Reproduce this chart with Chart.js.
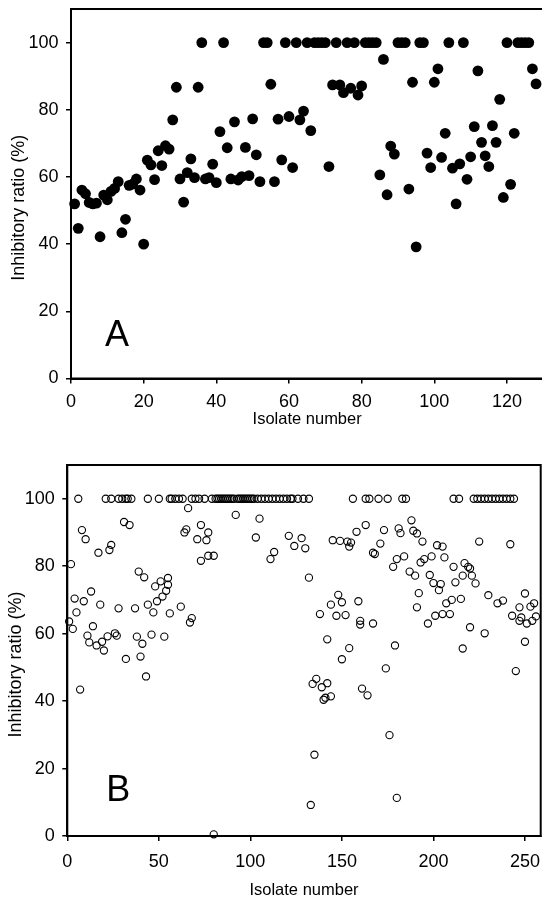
<!DOCTYPE html>
<html><head><meta charset="utf-8">
<script src="https://cdn.jsdelivr.net/npm/chart.js@4/dist/chart.umd.min.js"></script>
<style>
html,body{margin:0;padding:0;background:#fff;overflow:hidden;width:542px;height:901px;position:relative;}
#wa{position:absolute;left:0;top:0;width:560px;height:450px;}
#wb{position:absolute;left:0;top:450px;width:560px;height:451px;}
canvas{display:block;}
</style></head><body>
<div id="wa"><canvas id="ca" width="560" height="450"></canvas></div>
<div id="wb"><canvas id="cb" width="560" height="451"></canvas></div>
<script>
// ---- Panel A: isolates 1..128, inhibitory ratio (%) ----
const ratioA = [
52,44.7,56.1,55,52.4,52,52.2,42.2,54.6,53.2,
55.7,56.6,58.6,43.4,47.4,57.5,57.9,59.4,56.1,40,
65,63.6,59.2,67.8,63.4,69.3,68.3,77,86.7,59.4,
52.5,61.3,65.4,59.8,86.7,100,59.4,59.8,63.8,58.3,
73.5,100,68.7,59.4,76.4,59.1,60.1,68.8,60.4,77.3,
66.6,58.6,100,100,87.6,58.6,77.2,65.1,100,78,
62.8,100,77,79.6,100,73.8,100,100,100,100,
63.1,87.4,100,87.4,85.1,100,86.4,100,84.4,87.1,
100,100,100,100,60.6,95,54.7,69.2,66.8,100,
100,100,56.4,88.2,39.2,100,100,67.1,62.8,88.2,
92.2,65.8,73,100,62.6,52,63.9,100,59.3,66,
75,91.6,70.3,66.3,63.1,75.3,70.3,83.1,53.9,100,
57.8,73,100,100,100,100,92.2,87.7];

// ---- Panel B: isolate number / inhibitory ratio (%) ----
const isolateB = [
1,2,3,4,5,6,7,8,9,10,
11,12,13,14,16,17,18,19,20,21,
22,23,24,24,26,27,28,28,30,31,
32,32,33,34,35,37,38,39,40,41,
42,43,44,44,46,47,48,49,50,51,
52,53,54,55,55,56,56,57,59,61,
62,63,64,65,66,67,68,68,70,71,
72,73,73,75,76,77,77,79,80,80,
81,82,83,84,85,86,87,88,89,90,
91,92,93,94,95,96,97,98,99,100,
101,102,103,104,105,106,108,110,111,112,
113,114,116,118,120,121,122,123,124,126,
128,129,130,132,132,133,134,135,136,138,
139,140,141,142,142,144,144,145,147,148,
149,150,150,152,153,154,154,155,156,158,
159,160,160,161,163,163,164,165,167,167,
168,170,171,173,174,175,176,178,179,180,
180,181,182,183,184,185,187,188,189,190,
191,191,192,193,194,195,197,198,199,200,
201,202,203,204,205,205,206,207,209,210,
211,211,212,214,215,216,216,217,219,220,
220,221,222,223,224,225,226,228,228,230,
230,232,234,235,236,238,238,240,242,242,
243,244,245,247,247,248,250,250,251,253,
254,255,256];
const ratioB = [
63.6,80.6,61.4,70.4,66.3,100,43.4,90.7,69.6,88,
59.4,57.4,72.5,62.2,56.5,84,68.6,57.6,55,100,
59.2,84.8,86.3,100,60.1,59.4,67.5,100,100,93.1,
52.5,100,100,92.2,100,67.5,59.1,78.4,53.2,57,
76.7,47.3,68.6,100,59.7,66.3,74,69.6,100,75.5,
71,59.1,72.7,74.5,76.5,66,100,100,100,100,
68,100,90,90.9,97.2,63.3,64.6,100,100,88,
100,81.6,92.2,100,87.7,90,83.1,100,0.5,83.1,
100,100,100,100,100,100,100,100,100,100,
100,95.2,100,100,100,100,100,100,100,100,
100,100,88.5,100,94.1,100,100,100,82.1,100,
84.2,100,100,100,100,89,100,100,86,100,
88.3,100,85.3,76.6,100,9.2,45.1,24.1,46.6,65.8,
44.1,40.4,41,58.3,45.3,41.4,68.6,87.7,65.3,71.5,
87.5,52.4,69.3,65.5,87.3,85.8,55.7,87,100,90.2,
69.6,63.8,62.7,43.7,92.2,100,41.7,100,84,63,
83.6,100,86.7,90.7,49.7,100,29.9,79.8,56.5,82.1,
11.3,91.2,89.8,100,82.9,100,78.4,93.6,90.5,77.2,
67.8,89.7,72,81.1,87.3,82.1,63,77.4,82.9,75,
65.3,86.2,72.9,74.7,85.8,65.8,82.6,69,65.8,70,
79.8,100,75.2,100,70.3,77.2,55.6,80.9,79.8,79.3,
61.9,77.2,100,74.9,100,87.3,100,60.1,100,71.4,
100,100,100,69,100,69.8,100,100,86.5,100,
65.3,100,48.9,67.8,63.8,64.8,71.9,57.6,63,68,
63.8,69,65.1];

const yTicks = [0, 20, 40, 60, 80, 100];
const xTicksA = [0, 20, 40, 60, 80, 100, 120];
const xTicksB = [0, 50, 100, 150, 200, 250];
const yTitle = 'Inhibitory ratio (%)';
const xTitle = 'Isolate number';

const FONT = '"Liberation Sans", Arial, Helvetica, sans-serif';

const framePlugin = {
  id: 'frame',
  afterDatasetsDraw(chart, args, o) {
    const {ctx, chartArea: a} = chart;
    ctx.save();
    ctx.strokeStyle = '#000';
    ctx.lineWidth = 2;
    ctx.strokeRect(a.left, a.top, a.right - a.left, a.bottom - a.top);
    ctx.fillStyle = '#000';
    ctx.font = '36px ' + FONT;
    ctx.textBaseline = 'alphabetic';
    ctx.textAlign = 'left';
    ctx.fillText(o.letter, a.left + o.dx, a.bottom - o.dy);
    // vertical axis title
    ctx.translate(o.tx, (a.top + a.bottom) / 2 + o.shift);
    ctx.rotate(-Math.PI / 2);
    ctx.font = '18px ' + FONT;
    ctx.textAlign = 'center';
    ctx.textBaseline = 'middle';
    ctx.fillText(yTitle, 0, 0);
    ctx.restore();
  }
};

function build(canvas, cfg) {
  return new Chart(canvas, {
    type: 'scatter',
    data: { datasets: [cfg.dataset] },
    plugins: [framePlugin],
    options: {
      responsive: false,
      animation: false,
      devicePixelRatio: 1,
      layout: { padding: cfg.pad },
      plugins: {
        legend: { display: false },
        tooltip: { enabled: false },
        frame: cfg.frame
      },
      scales: {
        x: {
          type: 'linear', min: 0, max: cfg.xmax,
          afterBuildTicks: s => { s.ticks = cfg.xTicks.map(v => ({ value: v })); },
          afterFit: s => { s.height = cfg.xh; s.paddingLeft = 0; s.paddingRight = 0; },
          grid: { display: true, drawOnChartArea: false, drawTicks: true, tickLength: 5, color: '#000', lineWidth: 1.5 },
          border: { display: true, color: '#000', width: 2 },
          ticks: { color: '#000', font: { family: FONT, size: 18 }, padding: cfg.xtp, maxRotation: 0, autoSkip: false },
          title: { display: true, text: xTitle, color: '#000', font: { family: FONT, size: 16.5 }, padding: { top: 0, bottom: cfg.xtb } }
        },
        y: {
          type: 'linear', min: 0, max: 110,
          afterBuildTicks: s => { s.ticks = yTicks.map(v => ({ value: v })); },
          afterFit: s => { s.width = cfg.yw; s.paddingTop = 0; s.paddingBottom = 0; },
          grid: { display: true, drawOnChartArea: false, drawTicks: true, tickLength: 5, color: '#000', lineWidth: 1.5 },
          border: { display: true, color: '#000', width: 2 },
          ticks: { color: '#000', font: { family: FONT, size: 18 }, padding: 7.5 },
          title: { display: false }
        }
      }
    }
  });
}

build(document.getElementById('ca'), {
  dataset: {
    data: ratioA.map((v, i) => ({ x: i + 1, y: v })),
    pointRadius: 5.4, pointBackgroundColor: '#000', pointBorderWidth: 0,
    pointHoverRadius: 5.4, showLine: false, clip: false
  },
  pad: { left: 0, top: 9, right: 16.7, bottom: 0 },
  xmax: 130, xTicks: xTicksA, xh: 71.5, yw: 71, xtp: 7.7, xtb: 21,
  frame: { letter: 'A', dx: 34, dy: 32.5, tx: 19, shift: 14 }
});

build(document.getElementById('cb'), {
  dataset: {
    data: isolateB.map((x, i) => ({ x: x, y: ratioB[i] })),
    pointRadius: 3.6, pointBackgroundColor: 'rgba(0,0,0,0)', pointBorderColor: '#000', pointBorderWidth: 1.1,
    pointHoverRadius: 3.6, showLine: false, clip: false
  },
  pad: { left: 0, top: 15, right: 19.3, bottom: 0 },
  xmax: 258.6, xTicks: xTicksB, xh: 65, yw: 67.3, xtp: 10, xtb: 1,
  frame: { letter: 'B', dx: 39, dy: 35, tx: 16.5, shift: 14 }
});
</script>
</body></html>
